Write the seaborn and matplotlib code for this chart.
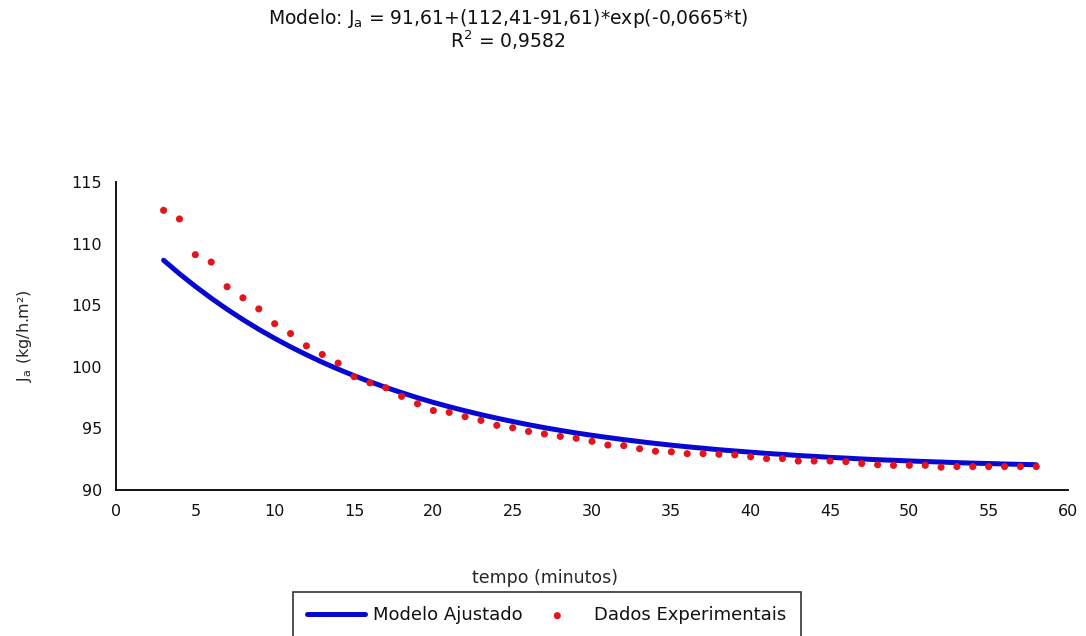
import pandas as pd
import matplotlib
matplotlib.use('Agg')
import matplotlib.pyplot as plt
import seaborn as sns

# Values
tempo = list(range(3, 59))
modelo = [108.65, 107.55, 106.53, 105.57, 104.67, 103.83, 103.04, 102.31, 101.62, 100.98,
          100.37, 99.81, 99.28, 98.79, 98.33, 97.90, 97.49, 97.11, 96.76, 96.43,
          96.12, 95.83, 95.56, 95.30, 95.06, 94.84, 94.63, 94.44, 94.26, 94.09,
          93.93, 93.78, 93.64, 93.51, 93.39, 93.27, 93.17, 93.07, 92.97, 92.89,
          92.80, 92.73, 92.65, 92.59, 92.52, 92.46, 92.41, 92.36, 92.31, 92.27,
          92.22, 92.18, 92.15, 92.11, 92.08, 92.05]
dados = [112.7, 112.0, 109.1, 108.5, 106.5, 105.6, 104.7, 103.5, 102.7, 101.7,
         101.0, 100.3, 99.2, 98.7, 98.3, 97.6, 97.0, 96.45, 96.3, 95.95,
         95.65, 95.25, 95.05, 94.75, 94.55, 94.35, 94.2, 93.95, 93.65, 93.6,
         93.35, 93.15, 93.1, 92.95, 92.95, 92.9, 92.85, 92.7, 92.55, 92.55,
         92.35, 92.35, 92.35, 92.3, 92.15, 92.05, 92.0, 92.0, 92.0, 91.85,
         91.9, 91.9, 91.9, 91.9, 91.9, 91.9]
x_ticks = list(range(0, 61, 5))
y_ticks = list(range(90, 116, 5))

titulo = 'Modelo: J$_\\mathrm{a}$ = 91,61+(112,41-91,61)*exp(-0,0665*t)'
r2 = 'R$^\\mathrm{2}$ = 0,9582'

sns.set_style('white')
plt.rcParams['font.family'] = ['DejaVu Sans']
plt.rcParams['mathtext.fontset'] = 'custom'
plt.rcParams['mathtext.rm'] = 'DejaVu Sans'
plt.rcParams['mathtext.it'] = 'DejaVu Sans:italic'
plt.rcParams['text.color'] = '#111111'

df = pd.DataFrame({'tempo': tempo, 'modelo': modelo, 'dados': dados})

fig = plt.figure(figsize=(10.86, 6.36), dpi=100)
# plot area: x 116..1068 px, y 182..490 px
ax = fig.add_axes([116 / 1086, 1 - 490 / 636, 952 / 1086, 308 / 636])

sns.lineplot(data=df, x='tempo', y='modelo', ax=ax, color='#0808d0', lw=3.6,
             label='Modelo Ajustado')
sns.scatterplot(data=df, x='tempo', y='dados', ax=ax, color='#e3141c', s=26,
                edgecolor='none', label='Dados Experimentais', zorder=3)

ax.set_xlim(0, 60)
ax.set_ylim(90, 115)
ax.set_xticks(x_ticks)
ax.set_yticks(y_ticks)
ax.tick_params(direction='out', length=6, width=1.3, colors='black', labelsize=11.5,
               labelcolor='#111111', pad=4)
sns.despine(ax=ax)
for side in ['left', 'bottom']:
    ax.spines[side].set_color('black')
    ax.spines[side].set_linewidth(1.3)

ax.set_xlabel('tempo (minutos)', fontsize=12.5)
ax.xaxis.set_label_coords((545 - 116) / 952, -0.255)
ax.set_ylabel('J$_\\mathrm{a}$ (kg/h.m²)', fontsize=11.5)
ax.yaxis.set_label_coords(-0.086, 0.5)

fig.text(508 / 1086, 1 - 18 / 636, titulo, ha='center', va='center', fontsize=13.5)
fig.text(508 / 1086, 1 - 40 / 636, r2, ha='center', va='center', fontsize=13.5)

ax.get_legend().remove()
h, l = ax.get_legend_handles_labels()
leg = fig.legend(h, l, loc='upper left', bbox_to_anchor=(293 / 1086, 1 - 592 / 636),
                 ncol=2, fontsize=13, frameon=True, fancybox=False, edgecolor='black',
                 borderpad=0.8, handlelength=3.2, handletextpad=0.45, columnspacing=0.3,
                 borderaxespad=0)
leg.get_frame().set_linewidth(1.2)

fig.savefig('out.png', dpi=100)
